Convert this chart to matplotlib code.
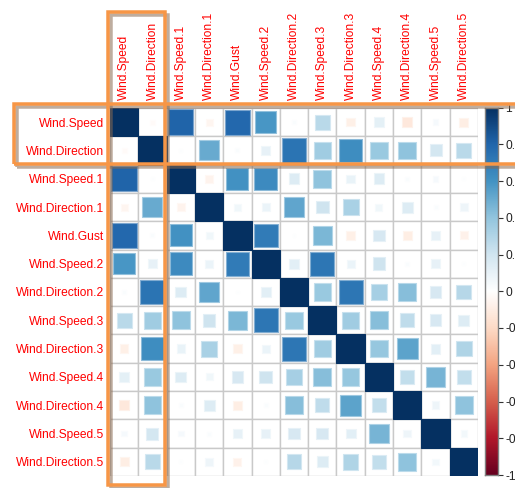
import numpy as np
import matplotlib
matplotlib.use("Agg")
import matplotlib.pyplot as plt
from matplotlib.colors import LinearSegmentedColormap, Normalize, to_rgb
from matplotlib.patches import Rectangle

# Variable names (rows and columns of the correlation matrix)
variables = ["Wind.Speed", "Wind.Direction", "Wind.Speed.1", "Wind.Direction.1",
             "Wind.Gust", "Wind.Speed.2", "Wind.Direction.2", "Wind.Speed.3",
             "Wind.Direction.3", "Wind.Speed.4", "Wind.Direction.4",
             "Wind.Speed.5", "Wind.Direction.5"]

# Lower triangle of the correlation matrix, one list per row
r_wind_direction = [-0.03]
r_wind_speed_1 = [0.80, 0.01]
r_wind_direction_1 = [-0.06, 0.50, -0.07]
r_wind_gust = [0.78, 0.02, 0.60, 0.06]
r_wind_speed_2 = [0.58, 0.10, 0.63, 0.08, 0.70]
r_wind_direction_2 = [0.02, 0.73, 0.14, 0.52, 0.01, 0.12]
r_wind_speed_3 = [0.27, 0.35, 0.40, 0.20, 0.45, 0.72, 0.37]
r_wind_direction_3 = [-0.09, 0.62, 0.09, 0.32, -0.09, 0.08, 0.72, 0.35]
r_wind_speed_4 = [0.11, 0.37, 0.14, 0.06, 0.17, 0.20, 0.33, 0.42, 0.38]
r_wind_direction_4 = [-0.13, 0.40, 0.02, 0.15, -0.10, 0.02, 0.42, 0.25, 0.53, 0.24]
r_wind_speed_5 = [0.04, 0.18, 0.04, 0.02, 0.10, 0.10, 0.17, 0.17, 0.12, 0.46, 0.07]
r_wind_direction_5 = [-0.10, 0.27, 0.01, 0.07, -0.08, 0.01, 0.28, 0.15, 0.30, 0.24, 0.40, 0.05]

lower_rows = [[], r_wind_direction, r_wind_speed_1, r_wind_direction_1, r_wind_gust,
              r_wind_speed_2, r_wind_direction_2, r_wind_speed_3, r_wind_direction_3,
              r_wind_speed_4, r_wind_direction_4, r_wind_speed_5, r_wind_direction_5]

colorbar_ticks = [-1, -0.8, -0.6, -0.4, -0.2, 0, 0.2, 0.4, 0.6, 0.8, 1]
colorbar_labels = ["-1", "-0.8", "-0.6", "-0.4", "-0.2", "0", "0.2", "0.4", "0.6", "0.8", "1"]

n = len(variables)
corr = np.eye(n)
for i, row in enumerate(lower_rows):
    for j, v in enumerate(row):
        corr[i, j] = v
        corr[j, i] = v

# Diverging red-white-blue palette
palette = ["#67001F", "#B2182B", "#D6604D", "#F4A582", "#FDDBC7", "#FFFFFF",
           "#D1E5F0", "#92C5DE", "#4393C3", "#2166AC", "#053061"]
cmap = LinearSegmentedColormap.from_list("rdbu_corr", palette, N=200)
norm = Normalize(-1, 1)

W, H = 515, 488
fig = plt.figure(figsize=(W / 100, H / 100), dpi=100)


def fx(px):
    return px / W


def fy(py):
    return 1 - py / H


FONT = "Liberation Sans"
FS = 8.64

# Matrix panel
gx0, gx1, gy0, gy1 = 110, 478, 108, 476
ax = fig.add_axes([fx(gx0), fy(gy1), fx(gx1 - gx0), (gy1 - gy0) / H])
ax.set_xlim(0, n)
ax.set_ylim(n, 0)
for s in ax.spines.values():
    s.set_visible(False)

grid_col = "#C9C9C9"
for i in range(n):
    for j in range(n):
        ax.add_patch(Rectangle((j, i), 1, 1, facecolor="white", edgecolor=grid_col,
                               lw=1.0, zorder=1))

for i in range(n):
    for j in range(n):
        r = corr[i, j]
        side = np.sqrt(abs(r))
        face = np.array(cmap(norm(r))[:3])
        edge = face * 0.6 + np.array([1, 1, 1]) * 0.4
        ax.add_patch(Rectangle((j + 0.5 - side / 2, i + 0.5 - side / 2), side, side,
                               facecolor=face, edgecolor=edge if abs(r) < 0.999 else face,
                               lw=0.8, zorder=2))

ax.set_xticks(np.arange(n) + 0.5)
ax.set_yticks(np.arange(n) + 0.5)
ax.xaxis.tick_top()
ax.set_xticklabels(variables, rotation=90, color="red", fontsize=FS, family=FONT)
ax.set_yticklabels(variables, color="red", fontsize=FS, family=FONT)
ax.tick_params(axis="x", length=0, pad=5.5)
ax.tick_params(axis="y", length=0, pad=4.3)

# Colour legend
cax = fig.add_axes([fx(485), fy(475), fx(12.7), (475 - 107.5) / H])
grad = np.linspace(-1, 1, 200).reshape(-1, 1)
cax.imshow(grad, cmap=cmap, norm=norm, aspect="auto", origin="lower",
           extent=[0, 1, -1, 1])
cax.set_xlim(0, 1)
cax.set_ylim(-1, 1)
cax.set_xticks([])
cax.yaxis.tick_right()
cax.set_yticks(colorbar_ticks)
cax.set_yticklabels(colorbar_labels, fontsize=FS, family=FONT, color="#222222")
cax.tick_params(axis="y", length=3.5, width=0.8, pad=2, color="#333333")
for s in cax.spines.values():
    s.set_edgecolor("#7F7F7F")
    s.set_linewidth(1.0)

# Highlight boxes around the first two variables
orange = "#F79646"
shadow = "#8A6A50"
lw_px = 3.5
lw_pt = lw_px * 72 / 100


def highlight(x0, y0, x1, y1):
    for dx, col, alpha, z in [(3, shadow, 0.55, 9), (0, orange, 1.0, 10)]:
        rect = Rectangle((fx(x0 + dx), fy(y1 + dx)), fx(x1 - x0), (y1 - y0) / H,
                         transform=fig.transFigure, fill=False, edgecolor=col,
                         alpha=alpha, lw=lw_pt, zorder=z, clip_on=False)
        fig.add_artist(rect)


highlight(13.7, 104.3, 530, 163.5)
highlight(107.8, 11.5, 165.0, 485.3)

fig.savefig("out.png", dpi=100)
